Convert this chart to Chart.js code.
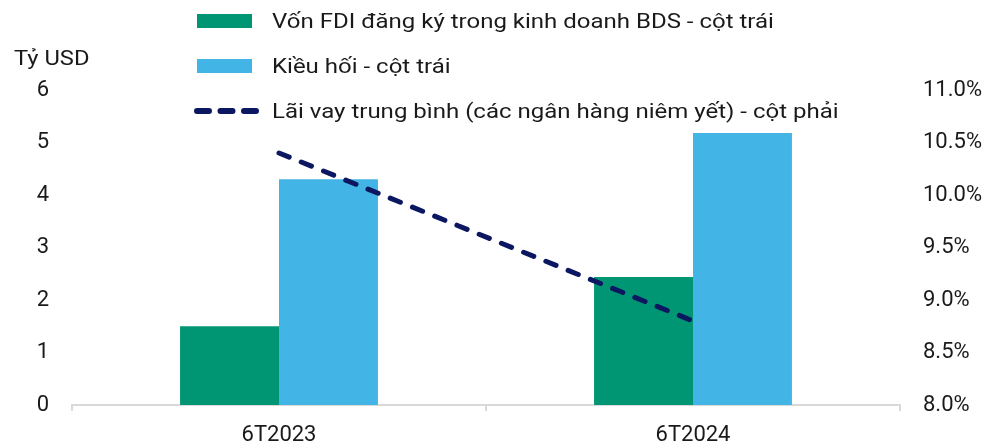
<!DOCTYPE html>
<html>
<head>
<meta charset="utf-8">
<script src="https://cdn.jsdelivr.net/npm/chart.js@4/dist/chart.umd.min.js"></script>
<style>
  body { margin: 0; background: #fff; font-family: Roboto, "Noto Sans", sans-serif; }
  #wrap { position: relative; width: 989px; height: 448px; }
  #unit { position: absolute; left: 14px; top: 46px; font-size: 21px; color: #1a1a1a; transform: scaleX(1.13); transform-origin: left center; }
  #legend { position: absolute; left: 0; top: 0; }
  .item { position: absolute; height: 30px; display: flex; align-items: center; white-space: nowrap; font-size: 20px; color: #1a1a1a; }
  .item span { display: inline-block; transform: scaleX(1.2); transform-origin: left center; }
  .sw { width: 55px; height: 14px; margin-right: 20px; }
</style>
</head>
<body>
<div id="wrap">
  <canvas id="grafico" width="989" height="448"></canvas>
  <div id="unit">Tỷ USD</div>
  <div id="legend"></div>
</div>
<script>
const categorias = ["6T2023", "6T2024"];
const fdi = [1.5, 2.44];
const kieuHoi = [4.3, 5.18];
const laiVay = [10.4, 8.8];

const nomes = [
  "Vốn FDI đăng ký trong kinh doanh BDS - cột trái",
  "Kiều hối - cột trái",
  "Lãi vay trung bình (các ngân hàng niêm yết) - cột phải"
];
const cores = ["#009673", "#42b4e5", "#0b1760"];

const ctx = document.getElementById("grafico").getContext("2d");

const fonte = { family: "Roboto", size: 22 };

const grafico = new Chart(ctx, {
  type: "bar",
  data: {
    labels: categorias,
    datasets: [
      {
        type: "line",
        label: nomes[2],
        data: laiVay,
        yAxisID: "y1",
        borderColor: cores[2],
        borderWidth: 5,
        borderDash: [11, 13],
        borderCapStyle: "round",
        pointRadius: 0,
        fill: false,
        order: 0
      },
      {
        label: nomes[0],
        data: fdi,
        yAxisID: "y",
        backgroundColor: cores[0],
        categoryPercentage: 0.478,
        barPercentage: 1,
        order: 1
      },
      {
        label: nomes[1],
        data: kieuHoi,
        yAxisID: "y",
        backgroundColor: cores[1],
        categoryPercentage: 0.478,
        barPercentage: 1,
        order: 2
      }
    ]
  },
  options: {
    responsive: false,
    animation: false,
    layout: { padding: { top: 90, left: 0, right: 0, bottom: 0 } },
    plugins: {
      legend: { display: false },
      tooltip: { enabled: false }
    },
    scales: {
      x: {
        grid: { drawOnChartArea: false, drawTicks: true, tickLength: 6, color: "#d9d9d9", lineWidth: 2 },
        border: { display: true, color: "#d9d9d9", width: 2 },
        ticks: { color: "#1a1a1a", font: fonte, padding: 11 },
        afterFit: (s) => { s.height = 43; }
      },
      y: {
        position: "left",
        min: 0,
        max: 6,
        grid: { display: false },
        border: { display: false },
        ticks: { stepSize: 1, color: "#1a1a1a", font: fonte, padding: 15 },
        afterFit: (s) => { s.width = 72; }
      },
      y1: {
        position: "right",
        min: 8,
        max: 11,
        grid: { display: false },
        border: { display: false },
        ticks: {
          stepSize: 0.5,
          color: "#1a1a1a",
          font: fonte,
          padding: 15,
          callback: (v) => v.toFixed(1) + "%"
        },
        afterFit: (s) => { s.width = 89; }
      }
    }
  }
});

// legenda em coluna, montada a partir dos datasets
const legenda = document.getElementById("legend");
const ordemLegenda = [1, 2, 0];
const topos = [6, 51, 96];
ordemLegenda.forEach((idx, i) => {
  const ds = grafico.data.datasets[idx];
  const item = document.createElement("div");
  item.className = "item";
  item.style.top = topos[i] + "px";
  if (ds.type === "line") {
    item.style.left = "194px";
    item.innerHTML = `<svg width="66" height="14" style="margin-right:12px"><line x1="3" y1="7" x2="62" y2="7" stroke="${ds.borderColor}" stroke-width="6" stroke-linecap="round" stroke-dasharray="12 11.5"/></svg>`;
  } else {
    item.style.left = "197px";
    item.innerHTML = `<div class="sw" style="background:${ds.backgroundColor}"></div>`;
  }
  const txt = document.createElement("span");
  txt.textContent = ds.label;
  item.appendChild(txt);
  legenda.appendChild(item);
});
</script>
</body>
</html>
